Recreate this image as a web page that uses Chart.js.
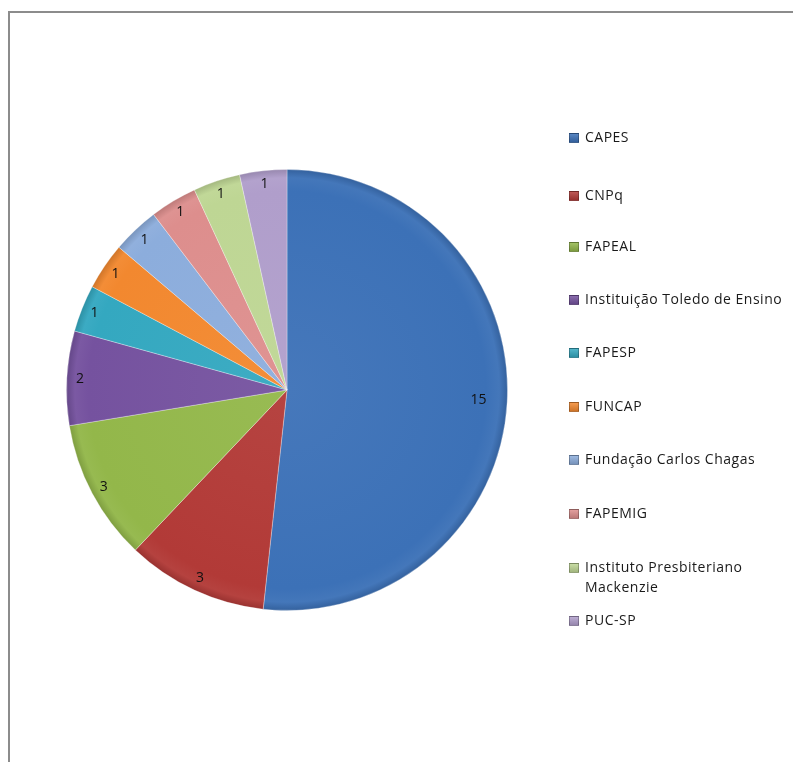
<!DOCTYPE html>
<html>
<head>
<meta charset="utf-8">
<script src="https://cdn.jsdelivr.net/npm/chart.js@4"></script>
<style>
    html, body { margin: 0; padding: 0; background: #fff; }
    #wrap { position: relative; width: 793px; height: 762px; overflow: hidden; }
    #frame { position: absolute; left: 8px; top: 11px; width: 800px; height: 800px;
             border-left: 2px solid #8c8c8c; border-top: 2px solid #8c8c8c; }
    #pie { position: absolute; left: 0; top: 0; }
    #legend { position: absolute; left: 569px; top: 0; font-family: "Open Sans", "Noto Sans", sans-serif;
              font-size: 14px; letter-spacing: 0.5px; color: #1a1a1a; }
    .legend-item { position: absolute; left: 0; width: 225px; display: flex; line-height: 20px; }
    .legend-box { flex: none; width: 8px; height: 8px; margin: 6px 6px 0 0; border: 1px solid rgba(0,0,0,0.25); }
</style>
</head>
<body>
<div id="wrap">
    <div id="frame"></div>
    <canvas id="pie" width="793" height="762"></canvas>
    <div id="legend"></div>
</div>
<script>
// Data
const labels = ['CAPES', 'CNPq', 'FAPEAL', 'Instituição Toledo de Ensino', 'FAPESP', 'FUNCAP',
    'Fundação Carlos Chagas', 'FAPEMIG', 'Instituto Presbiteriano Mackenzie', 'PUC-SP'];
const values = [15, 3, 3, 2, 1, 1, 1, 1, 1, 1];
const colors = ['#3c71b7', '#b23a37', '#93b74a', '#75529f', '#34a8c0', '#f2882f',
    '#8caddc', '#dd8e8d', '#bed694', '#b09ecb'];
const legendTops = [127, 185, 236, 289, 342, 396, 449, 503, 557, 610];

function shade(hex, amt) {
    const n = parseInt(hex.slice(1), 16);
    let r = (n >> 16) & 255, g = (n >> 8) & 255, b = n & 255;
    const f = v => Math.round(amt >= 0 ? v + (255 - v) * amt : v * (1 + amt));
    return `rgb(${f(r)},${f(g)},${f(b)})`;
}

function sliceFill(context) {
    const chart = context.chart;
    const area = chart.chartArea;
    const base = colors[context.dataIndex];
    if (!area) return base;
    const cx = (area.left + area.right) / 2;
    const cy = (area.top + area.bottom) / 2;
    const r = Math.min(area.width, area.height) / 2;
    const g = chart.ctx.createRadialGradient(cx, cy, 0, cx, cy, r);
    g.addColorStop(0, shade(base, 0.05));
    g.addColorStop(0.9, base);
    g.addColorStop(0.96, shade(base, 0.04));
    g.addColorStop(1, shade(base, -0.15));
    return g;
}

// value labels inside the slices
const valueLabels = {
    id: 'valueLabels',
    afterDatasetsDraw(chart) {
        const ctx = chart.ctx;
        const meta = chart.getDatasetMeta(0);
        ctx.save();
        ctx.font = '14px "Open Sans", "Noto Sans", sans-serif';
        ctx.fillStyle = '#111';
        ctx.textAlign = 'center';
        ctx.textBaseline = 'middle';
        meta.data.forEach((arc, i) => {
            const mid = (arc.startAngle + arc.endAngle) / 2;
            const k = values[i] > 5 ? 0.87 : 0.94;
            const x = arc.x + Math.cos(mid) * arc.outerRadius * k;
            const y = arc.y + Math.sin(mid) * arc.outerRadius * k;
            ctx.fillText(String(values[i]), x, y);
        });
        ctx.restore();
    }
};

new Chart(document.getElementById('pie'), {
    type: 'pie',
    data: {
        labels: labels,
        datasets: [{
            data: values,
            backgroundColor: sliceFill,
            borderColor: 'rgba(255,255,255,0.3)',
            borderWidth: 1,
            hoverOffset: 0
        }]
    },
    options: {
        responsive: false,
        animation: false,
        layout: { padding: { left: 66, right: 285, top: 169, bottom: 151 } },
        plugins: {
            legend: { display: false },
            tooltip: { enabled: false }
        }
    },
    plugins: [valueLabels]
});

// HTML legend
const legend = document.getElementById('legend');
labels.forEach((name, i) => {
    const item = document.createElement('div');
    item.className = 'legend-item';
    item.style.top = legendTops[i] + 'px';
    if (i === 8) item.style.width = '205px';
    item.innerHTML = `<span class="legend-box" style="background: linear-gradient(${shade(colors[i], 0.15)}, ${shade(colors[i], -0.15)})"></span><span>${name}</span>`;
    legend.appendChild(item);
});
</script>
</body>
</html>
